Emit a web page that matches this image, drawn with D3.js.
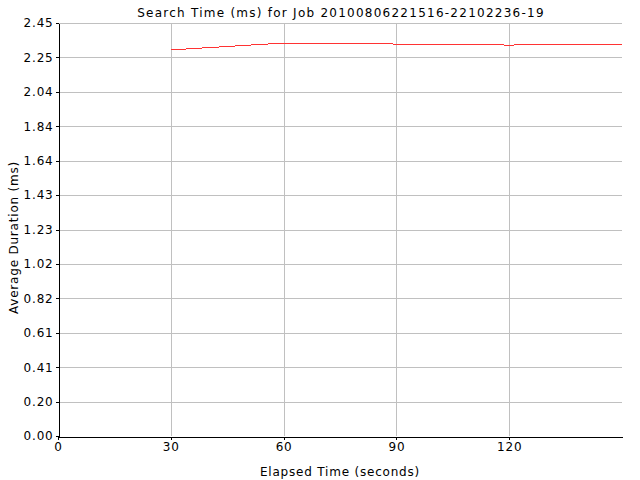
<!DOCTYPE html>
<html>
<head>
<meta charset="utf-8">
<script src="https://d3js.org/d3.v7.min.js"></script>
<style>
  body { margin: 0; background: #fff; }
  text { font-family: "DejaVu Sans", sans-serif; letter-spacing: 0.8px; }
</style>
</head>
<body>
<script>
// data
var elapsed = [30, 60, 90, 120, 150];
var duration = [2.293, 2.334, 2.328, 2.322, 2.328];
var yTickLabels = ["0.00", "0.20", "0.41", "0.61", "0.82", "1.02", "1.23", "1.43", "1.64", "1.84", "2.04", "2.25", "2.45"];
var xTicks = [0, 30, 60, 90, 120];
var yMax = 2.453;
var title = "Search Time (ms) for Job 20100806221516-22102236-19";

var w = 640, h = 480;
var padL = 58, padT = 23, padR = 622, padB = 436;

var svg = d3.select("body").append("svg")
    .attr("width", w)
    .attr("height", h);

var x = d3.scaleLinear().domain([0, 150]).range([padL, padR]);
var y = d3.scaleLinear().domain([0, yMax]).range([padB, padT]);
var yTickVals = yTickLabels.map(function (d, i) { return yMax * i / 12; });

// grid
svg.append("g").selectAll("line")
    .data(xTicks.slice(1))
    .enter().append("line")
    .attr("x1", d => Math.round(x(d)) + 0.5).attr("x2", d => Math.round(x(d)) + 0.5)
    .attr("y1", padT).attr("y2", padB)
    .attr("stroke", "#c0c0c0").attr("shape-rendering", "crispEdges");
svg.append("g").selectAll("line")
    .data(yTickVals.slice(1))
    .enter().append("line")
    .attr("x1", padL).attr("x2", padR)
    .attr("y1", d => Math.round(y(d)) + 0.5).attr("y2", d => Math.round(y(d)) + 0.5)
    .attr("stroke", "#c0c0c0").attr("shape-rendering", "crispEdges");

// series
var line = d3.line()
    .x((d, i) => x(elapsed[i]))
    .y(d => y(d));
svg.append("path")
    .datum(duration)
    .attr("d", line)
    .attr("fill", "none")
    .attr("stroke", "#ff3333")
    .attr("stroke-width", 1)
    .attr("shape-rendering", "crispEdges");

// axes
var yAxis = d3.axisLeft(y)
    .tickValues(yTickVals)
    .tickFormat((d, i) => yTickLabels[i])
    .tickSizeInner(3).tickSizeOuter(0).tickPadding(2);
var xAxis = d3.axisBottom(x)
    .tickValues(xTicks)
    .tickSizeInner(3).tickSizeOuter(0).tickPadding(3);

var gy = svg.append("g")
    .attr("transform", "translate(" + (padL + 0.5) + ",0)")
    .call(yAxis);
var gx = svg.append("g")
    .attr("transform", "translate(0," + (padB + 0.5) + ")")
    .call(xAxis);
[gx, gy].forEach(function (g) {
  g.selectAll("path, line").attr("stroke", "#000").attr("shape-rendering", "crispEdges");
  g.selectAll("text").attr("font-size", 12).attr("fill", "#000")
    .style("font-family", "'DejaVu Sans', sans-serif");
});

// titles
svg.append("text")
    .attr("x", (padL + padR) / 2 + 1).attr("y", 17)
    .attr("text-anchor", "middle").attr("font-size", 12)
    .style("letter-spacing", "1.25px")
    .text(title);
svg.append("text")
    .attr("x", (padL + padR) / 2).attr("y", 476)
    .attr("text-anchor", "middle").attr("font-size", 12)
    .text("Elapsed Time (seconds)");
svg.append("text")
    .attr("transform", "translate(18,237.5) rotate(-90)")
    .attr("text-anchor", "middle").attr("font-size", 12)
    .text("Average Duration (ms)");
</script>
</body>
</html>
